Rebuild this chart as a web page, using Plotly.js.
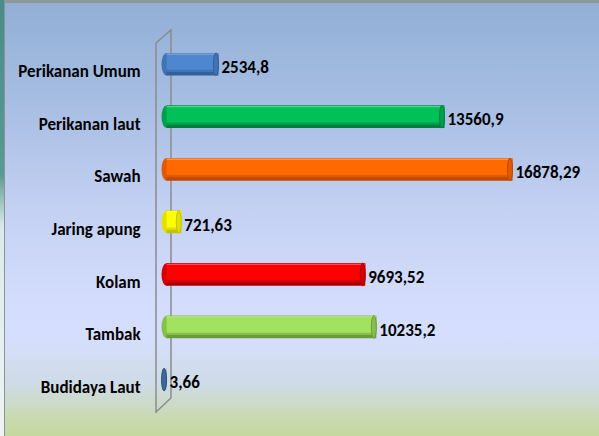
<!DOCTYPE html>
<html>
<head>
<meta charset="utf-8">
<script src="https://cdn.plot.ly/plotly-3.0.1.min.js"></script>
<style>
  html, body { margin: 0; padding: 0; }
  #wrap { position: relative; width: 599px; height: 436px; overflow: hidden;
    background: linear-gradient(to bottom, #4a8c8a 0%, #5b9896 40%, #dde9e9 52%, #eef4f4 100%); }
  #bg { position: absolute; left: 4px; top: 0; width: 595px; height: 433px;
    border-left: 1px solid #8a9494; border-top: 3px solid #8f9999;
    background: linear-gradient(to bottom, #92afd6 0%, #a9bfe4 25%, #c4d1f3 48%, #d3dcfc 68%, #d5defd 77%, #cfdbe6 88%, #c9dab0 96%, #c5d89e 100%); }
  #chart { position: absolute; left: 0; top: 0; width: 599px; height: 436px; }
</style>
</head>
<body>
<div id="wrap"><div id="bg"></div><div id="chart"></div></div>
<script>
const categories = ["Perikanan Umum", "Perikanan laut", "Sawah", "Jaring apung", "Kolam", "Tambak", "Budidaya Laut"];
const values = [2534.8, 13560.9, 16878.29, 721.63, 9693.52, 10235.2, 3.66];
const labels = ["2534,8", "13560,9", "16878,29", "721,63", "9693,52", "10235,2", "3,66"];
const mainColors = ["#4f86d0", "#00c058", "#ff6a00", "#ffff00", "#ff0000", "#a2e25e", "#3d6896"];
const darkColors = ["#355f99", "#007d40", "#bf4a00", "#c2c200", "#a80000", "#6c9c3a", "#2c5078"];

function mix(a, b, t) {
  const pa = [1, 3, 5].map(k => parseInt(a.substr(k, 2), 16));
  const pb = [1, 3, 5].map(k => parseInt(b.substr(k, 2), 16));
  return "rgb(" + pa.map((v, k) => Math.round(v + (pb[k] - v) * t)).join(",") + ")";
}
const midColors = mainColors.map((c, i) => mix(c, darkColors[i], 0.5));
const lightColors = mainColors.map(c => mix(c, "#ffffff", 0.3));

const font = "Carlito, 'Liberation Sans Narrow', 'DejaVu Sans Condensed', Arial, sans-serif";
const barW = 0.43, barOff = -0.35;
const capUnits = 244; // ~5px at this scale

function layer(colors, frac, shift) {
  return {
    type: "bar", orientation: "h", x: values, y: categories,
    width: categories.map(() => barW * frac), offset: categories.map(() => barOff + shift),
    marker: { color: colors, line: { width: 0 } },
    hoverinfo: "skip", showlegend: false
  };
}
const labelTrace = {
  type: "bar", orientation: "h", x: values, y: categories,
  width: categories.map(() => 0.3), offset: categories.map(() => -0.226),
  marker: { color: "rgba(0,0,0,0)" },
  text: labels, textposition: "outside", cliponaxis: false, constraintext: "none",
  textfont: { family: font, size: 17, color: "#000000", weight: "bold" },
  hoverinfo: "skip", showlegend: false
};

const shapes = [];
shapes.push({
  type: "path", xref: "paper", yref: "paper", layer: "below",
  path: "M 0.0226 0.0027 L 0.0226 1.0054 L 0.0564 1.0408 L 0.0564 0.0408 Z",
  line: { color: "#8c8c8c", width: 1.5 }, fillcolor: "rgba(0,0,0,0)"
});
categories.forEach((c, i) => {
  const v = values[i];
  if (v > 2 * capUnits) {
    shapes.push({ type: "circle", xref: "x", yref: "y", layer: "below",
      x0: -capUnits, x1: capUnits, y0: i + barOff, y1: i + barOff + barW,
      fillcolor: midColors[i], line: { width: 0 } });
  }
  shapes.push({ type: "circle", xref: "x", yref: "y", layer: "above",
    x0: v - capUnits, x1: v, y0: i + barOff, y1: i + barOff + barW,
    fillcolor: v > 2 * capUnits ? midColors[i] : mainColors[i], line: { color: darkColors[i], width: 1 } });
});

const layout = {
  width: 599, height: 436,
  margin: { l: 146, r: 10, t: 45, b: 23, pad: 0 },
  paper_bgcolor: "rgba(0,0,0,0)", plot_bgcolor: "rgba(0,0,0,0)",
  barmode: "overlay", showlegend: false,
  xaxis: { range: [-1000, 20610], visible: false, showgrid: false, zeroline: false },
  yaxis: { autorange: "reversed", showgrid: false, zeroline: false, showline: false,
    ticks: "outside", ticklen: 1, tickcolor: "rgba(0,0,0,0)",
    tickfont: { family: font, size: 17, color: "#000000", weight: "bold" } },
  shapes: shapes
};
const traces = [
  layer(darkColors, 1.0, 0),
  layer(midColors, 0.85, 0),
  layer(mainColors, 0.68, 0.03),
  layer(lightColors, 0.06, 0.01),
  labelTrace
];
Plotly.newPlot("chart", traces, layout, { displayModeBar: false, staticPlot: true });
</script>
</body>
</html>
